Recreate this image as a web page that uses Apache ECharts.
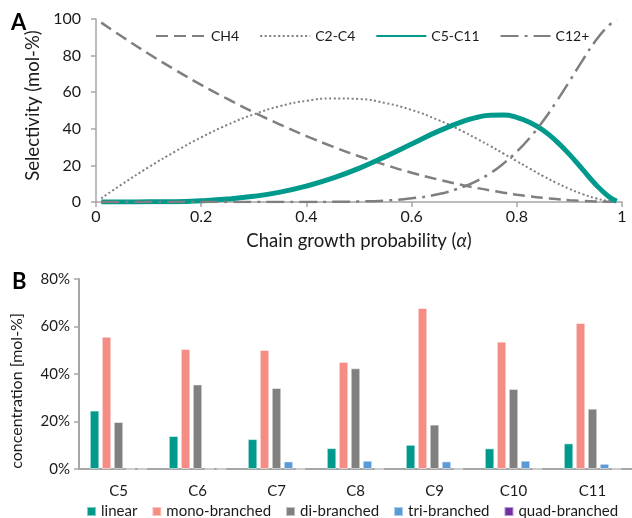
<!DOCTYPE html>
<html>
<head>
<meta charset="utf-8">
<script src="https://cdn.jsdelivr.net/npm/echarts@6/dist/echarts.min.js"></script>
<style>
html,body{margin:0;padding:0;background:#fff;}
#c{width:632px;height:518px;}
</style>
</head>
<body>
<div id="c"></div>
<script>
// ---- Panel A: selectivity vs chain growth probability
var alpha = [0.01,0.05,0.10,0.15,0.20,0.25,0.30,0.35,0.40,0.45,0.50,0.55,0.60,0.65,0.70,0.725,0.75,0.775,0.80,0.825,0.85,0.875,0.90,0.925,0.95,0.975,0.99];
var ch4   = [98.0,90.3,81.0,72.3,64.0,56.3,49.0,42.3,36.0,30.3,25.0,20.3,16.0,12.3,9.0,7.6,6.3,5.1,4.0,3.1,2.3,1.6,1.0,0.6,0.3,0.1,0.0];
var c2c4  = [2.0,9.8,19.0,27.5,35.3,42.2,47.9,52.4,55.3,56.6,56.3,54.1,50.3,44.9,38.2,34.4,30.5,26.4,22.3,18.2,14.2,10.5,7.2,4.3,2.0,0.5,0.1];
var c5c11 = [0.0,0.0,0.1,0.2,0.7,1.6,3.1,5.4,8.7,13.0,18.4,24.8,31.7,38.6,44.3,46.3,47.4,47.5,46.2,43.5,39.2,33.3,26.0,17.8,9.6,2.9,0.5];
var c12p  = [0,0,0,0,0,0,0,0,0,0.1,0.3,0.8,2.0,4.2,8.5,11.7,15.8,21.1,27.5,35.2,44.3,54.7,65.9,77.4,88.2,96.5,99.4];
var seriesNamesA = ['CH4','C2-C4','C5-C11','C12+'];

// ---- Panel B: isomer concentrations per carbon number
var carbons = ['C5','C6','C7','C8','C9','C10','C11'];
var linear = [24.6,13.9,12.6,8.8,10.2,8.7,10.8];
var mono   = [55.7,50.5,50.1,45.1,67.8,53.6,61.5];
var di     = [19.8,35.6,34.1,42.4,18.7,33.7,25.4];
var tri    = [0,0,3.2,3.5,3.2,3.5,2.2];
var quad   = [0,0,0,0,0,0,0];
var seriesNamesB = ['linear','mono-branched','di-branched','tri-branched','quad-branched'];

function pairs(xs, ys){ return xs.map(function(x,i){ return [x, ys[i]]; }); }

var FONT = 'Lato';
var GRAY = '#7f7f7f';
var AXIS = '#a6a6a6';
var TEAL = '#009a8c';
var TXT = '#1a1a1a';

var chart = echarts.init(document.getElementById('c'), null, {renderer:'canvas'});

var lineBase = {type:'line', xAxisIndex:0, yAxisIndex:0, symbol:'none', smooth:0.5, silent:true};

var option = {
  animation:false,
  textStyle:{fontFamily:FONT},
  graphic:[
    {type:'text', left:11, top:12, style:{text:'A', font:'bold 22px '+FONT, fill:'#000'}},
    {type:'text', left:12, top:271, style:{text:'B', font:'bold 22px '+FONT, fill:'#000'}}
  ],
  grid:[
    {left:96, top:19, right:10, height:183},
    {left:79, top:279, right:-4, height:190}
  ],
  legend:[
    {
      data:seriesNamesA, top:24, left:150, itemWidth:50, itemHeight:12, itemGap:20,
      itemStyle:{opacity:0},
      textStyle:{fontFamily:FONT, fontSize:14, color:TXT}
    },
    {
      data:seriesNamesB, top:499, left:81, itemWidth:9, itemHeight:9, itemGap:14, icon:'rect',
      textStyle:{fontFamily:FONT, fontSize:15, color:TXT}
    }
  ],
  xAxis:[
    {
      type:'value', gridIndex:0, min:0, max:1, interval:0.2,
      name:'Chain growth probability ({i|\u03b1})', nameLocation:'middle', nameGap:30,
      nameTextStyle:{fontFamily:FONT, fontSize:18.5, color:TXT, rich:{i:{fontStyle:'italic', fontFamily:FONT, fontSize:18.5, color:TXT}}},
      axisLine:{lineStyle:{color:AXIS, width:1.5}},
      axisTick:{show:true, length:5, lineStyle:{color:AXIS, width:1.5}},
      axisLabel:{fontFamily:FONT, fontSize:16, color:TXT, margin:7},
      splitLine:{show:false}
    },
    {
      type:'category', gridIndex:1, data:carbons,
      axisLine:{lineStyle:{color:AXIS, width:2}},
      axisTick:{show:false},
      axisLabel:{fontFamily:FONT, fontSize:15, color:TXT, margin:15},
      splitLine:{show:false}
    }
  ],
  yAxis:[
    {
      type:'value', gridIndex:0, min:0, max:100, interval:20,
      name:'Selectivity (mol-%)', nameLocation:'middle', nameGap:44,
      nameTextStyle:{fontFamily:FONT, fontSize:18.5, color:TXT, padding:[0,0,0,10]},
      axisLine:{show:true, lineStyle:{color:AXIS, width:1.5}},
      axisTick:{show:true, length:5, lineStyle:{color:AXIS, width:1.5}},
      axisLabel:{fontFamily:FONT, fontSize:16, color:TXT, margin:15},
      splitLine:{show:false}
    },
    {
      type:'value', gridIndex:1, min:0, max:80, interval:20,
      name:'concentration [mol-%]', nameLocation:'middle', nameGap:54,
      nameTextStyle:{fontFamily:FONT, fontSize:16, color:TXT, padding:[0,34,0,0]},
      axisLine:{show:true, lineStyle:{color:AXIS, width:2}},
      axisTick:{show:true, length:5, lineStyle:{color:AXIS, width:1.5}},
      axisLabel:{fontFamily:FONT, fontSize:15, color:TXT, margin:9, formatter:'{value}%'},
      splitLine:{show:false}
    }
  ],
  series:[
    Object.assign({}, lineBase, {name:'CH4', data:pairs(alpha, ch4), color:GRAY, lineStyle:{color:GRAY, width:2.5, type:[12,6]}, itemStyle:{color:GRAY}}),
    Object.assign({}, lineBase, {name:'C2-C4', data:pairs(alpha, c2c4), color:GRAY, lineStyle:{color:GRAY, width:2, type:[2,2.5]}, itemStyle:{color:GRAY}}),
    Object.assign({}, lineBase, {name:'C5-C11', data:pairs(alpha, c5c11), color:TEAL, lineStyle:{color:TEAL, width:5}, itemStyle:{color:TEAL}}),
    Object.assign({}, lineBase, {name:'C12+', data:pairs(alpha, c12p), color:GRAY, lineStyle:{color:GRAY, width:2.5, type:[18,6,3,6]}, itemStyle:{color:GRAY}}),
    {type:'bar', name:'linear', xAxisIndex:1, yAxisIndex:1, data:linear, barWidth:9.5, barGap:'26%', itemStyle:{color:TEAL, borderColor:'rgba(255,255,255,0.5)', borderWidth:1}, silent:true},
    {type:'bar', name:'mono-branched', xAxisIndex:1, yAxisIndex:1, data:mono, barWidth:9.5, barGap:'26%', itemStyle:{color:'#f58d85', borderColor:'rgba(255,255,255,0.5)', borderWidth:1}, silent:true},
    {type:'bar', name:'di-branched', xAxisIndex:1, yAxisIndex:1, data:di, barWidth:9.5, barGap:'26%', itemStyle:{color:'#808080', borderColor:'rgba(255,255,255,0.5)', borderWidth:1}, silent:true},
    {type:'bar', name:'tri-branched', xAxisIndex:1, yAxisIndex:1, data:tri, barWidth:9.5, barGap:'26%', itemStyle:{color:'#5b9bd5', borderColor:'rgba(255,255,255,0.5)', borderWidth:1}, silent:true},
    {type:'bar', name:'quad-branched', xAxisIndex:1, yAxisIndex:1, data:quad, barWidth:9.5, barGap:'26%', itemStyle:{color:'#7030a0', borderColor:'rgba(255,255,255,0.5)', borderWidth:1}, silent:true}
  ]
};
chart.setOption(option);
</script>
</body>
</html>
